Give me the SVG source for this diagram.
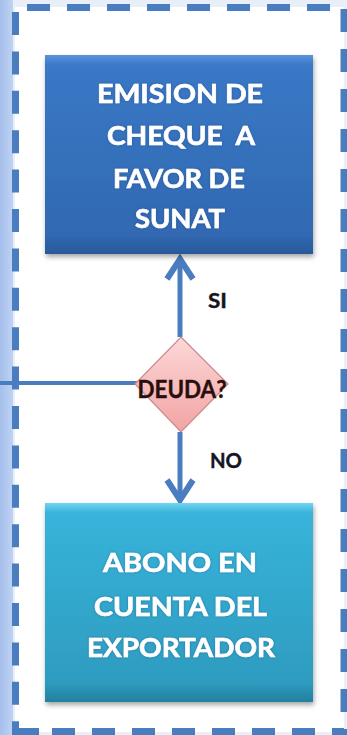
<svg xmlns="http://www.w3.org/2000/svg" width="347" height="735" viewBox="0 0 347 735">
  <style>
    .frame { stroke: #4a7cc0; stroke-width: 7; fill: none; stroke-dasharray: 23 17; }
    .conn { stroke: #4a7cc0; stroke-width: 5; fill: none; }
    .head { stroke: #4a7cc0; stroke-width: 6; fill: none; stroke-linejoin: miter; }
    .boxtext { font-family: Lato, "Open Sans", "Liberation Sans", sans-serif; font-weight: bold; font-size: 26px; fill: #ffffff; stroke: #ffffff; stroke-width: 0.6; text-anchor: middle; }
    .lbl { font-family: Lato, "Open Sans", "Liberation Sans", sans-serif; font-weight: bold; font-size: 21px; fill: #15151f; stroke: #15151f; stroke-width: 0.4; }
    .dtext { font-family: Lato, "Open Sans", "Liberation Sans", sans-serif; font-weight: bold; font-size: 24px; fill: #2a0e0e; stroke: #2a0e0e; stroke-width: 0.4; text-anchor: middle; }
  </style>
  <defs>
    <linearGradient id="bgLeft" x1="0" y1="0" x2="1" y2="0">
      <stop offset="0" stop-color="#a5bfeb"/>
      <stop offset="1" stop-color="#bfd3f3"/>
    </linearGradient>
    <linearGradient id="blueBox" x1="0" y1="0" x2="0" y2="1">
      <stop offset="0" stop-color="#5a95dc"/>
      <stop offset="0.05" stop-color="#3a78c6"/>
      <stop offset="0.9" stop-color="#3169b2"/>
      <stop offset="1" stop-color="#28599a"/>
    </linearGradient>
    <linearGradient id="tealBox" x1="0" y1="0" x2="0" y2="1">
      <stop offset="0" stop-color="#6fd4f0"/>
      <stop offset="0.05" stop-color="#38b3da"/>
      <stop offset="0.9" stop-color="#2e9cc0"/>
      <stop offset="1" stop-color="#23809f"/>
    </linearGradient>
    <linearGradient id="pink" x1="0" y1="0" x2="0" y2="1">
      <stop offset="0" stop-color="#fcd8d8"/>
      <stop offset="1" stop-color="#f3a3a3"/>
    </linearGradient>
    <filter id="shadow" x="-10%" y="-10%" width="125%" height="125%">
      <feDropShadow dx="1" dy="3" stdDeviation="2.5" flood-color="#000" flood-opacity="0.35"/>
    </filter>
    <filter id="glow" x="-10%" y="-20%" width="120%" height="140%">
      <feDropShadow dx="0" dy="0" stdDeviation="1" flood-color="#1a3a6a" flood-opacity="0.5"/>
    </filter>
  </defs>

  <!-- background -->
  <rect x="0" y="0" width="347" height="735" fill="#e8eff9"/>
  <rect x="0" y="0" width="13" height="735" fill="url(#bgLeft)"/>
  <rect x="15" y="7" width="329" height="725" fill="#ffffff"/>

  <!-- dashed frame -->
  <g id="frame">
    <line class="frame" x1="27" y1="7.5" x2="344" y2="7.5"/>
    <line class="frame" x1="344" y1="9" x2="344" y2="735"/>
    <line class="frame" x1="15.5" y1="12" x2="15.5" y2="735" style="stroke-dasharray:23 16.4"/>
    <line class="frame" x1="12" y1="731.5" x2="344" y2="731.5" style="stroke-dasharray:27 13 23 17 23 17 23 17 23 17 23 17 23 17 23 17 23 17"/>
  </g>

  <!-- connectors -->
  <g id="connectors">
    <line class="conn" x1="0" y1="383" x2="138" y2="383" style="stroke-width:4"/>
    <line class="conn" x1="180" y1="337" x2="180" y2="259"/>
    <path class="head" d="M167,279 L180,259 L193,279"/>
    <line class="conn" x1="180" y1="432" x2="180" y2="499"/>
    <path class="head" d="M167,480 L180,500 L193,480"/>
  </g>

  <!-- node: EMISION DE CHEQUE A FAVOR DE SUNAT -->
  <g id="node-emision">
    <rect x="45" y="55" width="268" height="199" fill="url(#blueBox)" filter="url(#shadow)"/>
    <g filter="url(#glow)">
      <text class="boxtext" x="180" y="103" textLength="166" lengthAdjust="spacingAndGlyphs">EMISION DE</text>
      <text class="boxtext" x="181" y="145" textLength="148" lengthAdjust="spacingAndGlyphs" xml:space="preserve">CHEQUE  A</text>
      <text class="boxtext" x="179" y="188" textLength="132" lengthAdjust="spacingAndGlyphs">FAVOR DE</text>
      <text class="boxtext" x="180" y="228" textLength="90" lengthAdjust="spacingAndGlyphs">SUNAT</text>
    </g>
  </g>

  <!-- node: DEUDA? -->
  <g id="node-deuda">
    <polygon points="181,337 228,384 181,432 135,384" fill="url(#pink)" stroke="#c98a8e" stroke-width="1.2"/>
    <text class="dtext" x="182" y="398" textLength="89" lengthAdjust="spacingAndGlyphs">DEUDA?</text>
  </g>

  <!-- node: ABONO EN CUENTA DEL EXPORTADOR -->
  <g id="node-abono">
    <rect x="45" y="503" width="268" height="199" fill="url(#tealBox)" filter="url(#shadow)"/>
    <g filter="url(#glow)">
      <text class="boxtext" x="180" y="572" textLength="154" lengthAdjust="spacingAndGlyphs">ABONO EN</text>
      <text class="boxtext" x="180.5" y="616" textLength="173" lengthAdjust="spacingAndGlyphs">CUENTA DEL</text>
      <text class="boxtext" x="181" y="657" textLength="188" lengthAdjust="spacingAndGlyphs">EXPORTADOR</text>
    </g>
  </g>

  <!-- labels -->
  <g id="labels">
    <text class="lbl" x="208" y="308" textLength="19" lengthAdjust="spacingAndGlyphs">SI</text>
    <text class="lbl" x="210" y="468" textLength="32" lengthAdjust="spacingAndGlyphs">NO</text>
  </g>
</svg>
